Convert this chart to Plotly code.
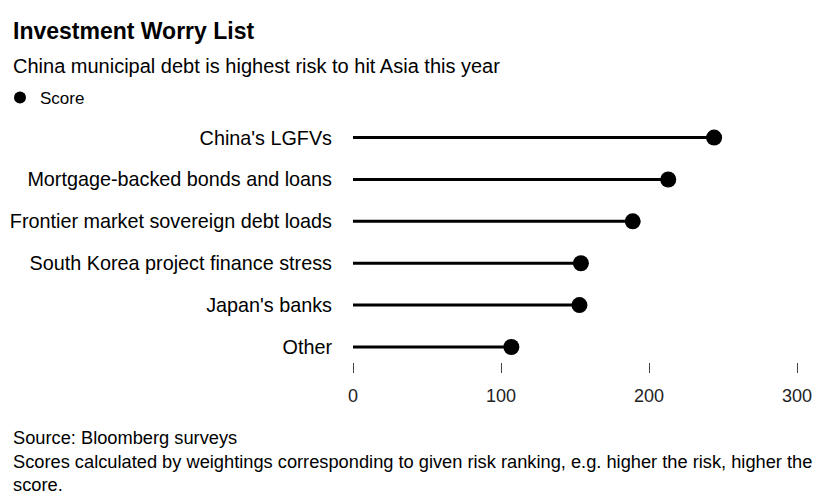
import plotly.graph_objects as go

categories = ["China's LGFVs", "Mortgage-backed bonds and loans", "Frontier market sovereign debt loads",
              "South Korea project finance stress", "Japan's banks", "Other"]
scores = [244, 213, 189, 154, 153, 107]
x_ticks = [0, 100, 200, 300]

FONT = "Liberation Sans, Arial, sans-serif"

# stems from 0 to each score
stem_x, stem_y = [], []
for c, v in zip(categories, scores):
    stem_x += [0, v, None]
    stem_y += [c, c, None]

fig = go.Figure()
fig.add_trace(go.Scatter(x=stem_x, y=stem_y, mode="lines",
                         line=dict(color="black", width=3), showlegend=False, hoverinfo="skip"))
fig.add_trace(go.Scatter(x=scores, y=categories, mode="markers", name="Score",
                         marker=dict(color="black", size=16)))

W, H = 828, 497
ML, MR, MT, MB = 353, 31, 120, 135
plot_h = H - MT - MB
plot_w = W - ML - MR
def px_x(px):
    return (px - ML) / plot_w
def px_y(py):
    return (H - MB - py) / plot_h

fig.update_layout(
    width=W, height=H,
    margin=dict(l=ML, r=MR, t=MT, b=MB, autoexpand=False),
    paper_bgcolor="white", plot_bgcolor="white",
    font=dict(family=FONT, color="black"),
    showlegend=True,
    legend=dict(xref="container", yref="container", x=0.0, y=1 - 98 / H, xanchor="left", yanchor="middle",
                font=dict(size=17, family=FONT), itemwidth=30, itemsizing="constant",
                bgcolor="rgba(0,0,0,0)", borderwidth=0),
    xaxis=dict(range=[0, 300], tickvals=x_ticks, ticks="outside", ticklen=10, tickwidth=1,
               tickcolor="#444", showgrid=False, zeroline=False, showline=False,
               tickfont=dict(size=18, family=FONT, color="#222"), ticklabelstandoff=7, fixedrange=True),
    yaxis=dict(type="category", categoryorder="array", categoryarray=categories[::-1],
               range=[-0.358, 5.42], showgrid=False, zeroline=False, showline=False, ticks="",
               tickfont=dict(size=19.8, family=FONT, color="black"), ticklabelstandoff=20,
               automargin=False, fixedrange=True),
    annotations=[
        dict(text="<b>Investment Worry List</b>", xref="paper", yref="paper", x=px_x(11), y=px_y(31),
             xanchor="left", yanchor="middle", showarrow=False,
             font=dict(size=23, family=FONT, color="black")),
        dict(text="China municipal debt is highest risk to hit Asia this year", xref="paper", yref="paper",
             x=px_x(11), y=px_y(66), xanchor="left", yanchor="middle", showarrow=False,
             font=dict(size=20, family=FONT, color="black")),
        dict(text="Source: Bloomberg surveys<br>Scores calculated by weightings corresponding to given risk ranking, e.g. higher the risk, higher the<br>score.",
             xref="paper", yref="paper", x=px_x(11), y=px_y(425), xanchor="left", yanchor="top", align="left",
             showarrow=False, font=dict(size=18.25, family=FONT, color="black")),
    ],
)

fig.write_html("out.html", config={"displayModeBar": False},
               post_script="document.body.style.margin='0';")
